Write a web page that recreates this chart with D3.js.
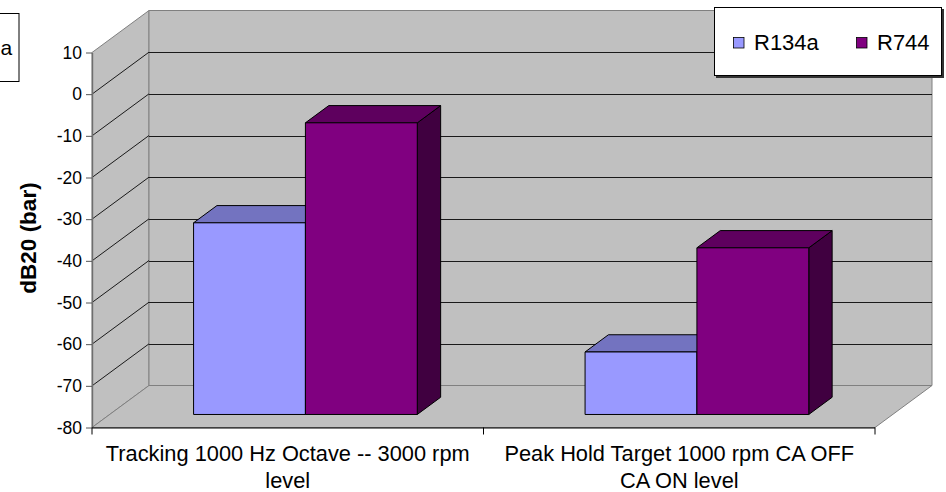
<!DOCTYPE html>
<html>
<head>
<meta charset="utf-8">
<script src="https://cdn.jsdelivr.net/npm/d3@7/dist/d3.min.js"></script>
<style>
  html, body { margin: 0; padding: 0; background: #ffffff; }
  svg { display: block; font-family: "Liberation Sans", Arial, sans-serif; }
</style>
</head>
<body>
<svg id="chart" width="946" height="492"></svg>
<script>
// Chart data
const categories = [
  "Tracking 1000 Hz Octave -- 3000 rpm level",
  "Peak Hold Target 1000 rpm CA OFF CA ON level"
];
const seriesNames = ["R134a", "R744"];
const r134a = [-34, -65];
const r744 = [-10, -40];
const yTickValues = [10, 0, -10, -20, -30, -40, -50, -60, -70, -80];
const yTitle = "dB20 (bar)";

const seriesValues = [r134a, r744];
const frontColors = ["#9999FF", "#800080"];
const topColors = ["#7373C0", "#5E005E"];
const sideColors = ["#5C5C99", "#400040"];

const svg = d3.select("#chart");

// Front-plane scales; depth is drawn as an oblique offset
const y = d3.scaleLinear().domain([-80, 10]).range([427.5, 52.5]);
const x = d3.scaleBand().domain(categories).range([92, 875]);
const xs = d3.scaleBand().domain(seriesNames).range([0, x.bandwidth()])
  .paddingInner(0).paddingOuter(0.75);

const DX = 57, DY = -42;            // full depth of the plot box
const proj = (px, py, d) => [px + DX * d, py + DY * d];
const barD0 = 0.31, barD1 = 0.72;   // bar depth span inside the box

const x0 = x.range()[0], x1 = x.range()[1];
const yTop = y(10), yBot = y(-80);

const line = d3.line();
const poly = pts => "M" + pts.map(p => p.join(",")).join("L") + "Z";

// Walls and floor
const walls = svg.append("g");
walls.append("path")
  .attr("d", poly([[x0, yTop], proj(x0, yTop, 1), proj(x0, yBot, 1), [x0, yBot]]))
  .attr("fill", "#C0C0C0").attr("stroke", "#808080").attr("stroke-width", 1);
walls.append("path")
  .attr("d", poly([proj(x0, yTop, 1), proj(x1, yTop, 1), proj(x1, yBot, 1), proj(x0, yBot, 1)]))
  .attr("fill", "#C0C0C0").attr("stroke", "#808080").attr("stroke-width", 1);
walls.append("path")
  .attr("d", poly([[x0, yBot], proj(x0, yBot, 1), proj(x1, yBot, 1), [x1, yBot]]))
  .attr("fill", "#C0C0C0").attr("stroke", "#808080").attr("stroke-width", 1);

// Gridlines: diagonal on the side wall, horizontal on the back wall
const gridVals = yTickValues.filter(v => v > -80 && v < 10);
const grid = svg.append("g").attr("stroke", "#1a1a1a").attr("stroke-width", 1).attr("fill", "none");
gridVals.forEach(v => {
  const a = [x0, y(v)], b = proj(x0, y(v), 1), c = proj(x1, y(v), 1);
  grid.append("path").attr("d", line([a, b]));
  grid.append("path").attr("d", line([[b[0], Math.round(b[1]) + 0.5], [c[0], Math.round(c[1]) + 0.5]]));
});

// Bars (front, top and right faces)
const bars = svg.append("g").attr("stroke", "#000").attr("stroke-width", 1).attr("stroke-linejoin", "round");
categories.forEach((cat, ci) => {
  seriesNames.forEach((s, si) => {
    const v = seriesValues[si][ci];
    const left = x(cat) + xs(s), right = left + xs.bandwidth();
    const fTL = proj(left, y(v), barD0), fTR = proj(right, y(v), barD0);
    const fBL = proj(left, y(-80), barD0), fBR = proj(right, y(-80), barD0);
    const bTL = proj(left, y(v), barD1), bTR = proj(right, y(v), barD1);
    const bBR = proj(right, y(-80), barD1);
    bars.append("path").attr("d", poly([fTR, bTR, bBR, fBR])).attr("fill", sideColors[si]);
    bars.append("path").attr("d", poly([fTL, bTL, bTR, fTR])).attr("fill", topColors[si]);
    bars.append("path").attr("d", poly([fTL, fTR, fBR, fBL])).attr("fill", frontColors[si]);
  });
});

// Value axis (plain hyphen-minus in the labels)
const yAxis = svg.append("g")
  .attr("transform", `translate(${x0},0)`)
  .call(d3.axisLeft(y).tickValues(yTickValues).tickFormat(d => String(d))
    .tickSize(6).tickPadding(4).tickSizeOuter(0));
yAxis.select(".domain").attr("stroke", "#6e6e6e").attr("stroke-width", 1.4);
yAxis.selectAll(".tick line").attr("stroke", "#555");
yAxis.selectAll(".tick text").attr("font-size", 17.5).attr("fill", "#000")
  .attr("font-family", "Liberation Sans, Arial, sans-serif");

// Category axis along the front edge of the floor
const xAxis = svg.append("g");
xAxis.append("line").attr("x1", x0).attr("x2", x1).attr("y1", yBot + 0.5).attr("y2", yBot + 0.5)
  .attr("stroke", "#000").attr("stroke-width", 1.2);
const bounds = [x0].concat(categories.map(c => x(c) + x.bandwidth()));
xAxis.selectAll("line.tk").data(bounds).join("line").attr("class", "tk")
  .attr("x1", d => d).attr("x2", d => d).attr("y1", yBot).attr("y2", yBot + 7)
  .attr("stroke", "#000");

// Wrapped category labels
categories.forEach(cat => {
  const cx = x(cat) + x.bandwidth() / 2;
  const t = svg.append("text")
    .attr("x", cx).attr("y", 461)
    .attr("text-anchor", "middle").attr("font-size", 21.8).attr("fill", "#000");
  const words = cat.split(" ");
  let lineWords = [], tspan = t.append("tspan").attr("x", cx).attr("dy", 0);
  const maxW = x.bandwidth() * 0.96;
  words.forEach(w => {
    lineWords.push(w);
    tspan.text(lineWords.join(" "));
    if (tspan.node().getComputedTextLength() > maxW && lineWords.length > 1) {
      lineWords.pop();
      tspan.text(lineWords.join(" "));
      lineWords = [w];
      tspan = t.append("tspan").attr("x", cx).attr("dy", 27).text(w);
    }
  });
});

// Value axis title
svg.append("text")
  .attr("transform", `translate(36,238) rotate(-90)`)
  .attr("text-anchor", "middle").attr("font-size", 22.5).attr("font-weight", "bold")
  .attr("fill", "#000").text(yTitle);

// Legend
const lg = svg.append("g");
lg.append("rect").attr("x", 716).attr("y", 9).attr("width", 228).attr("height", 69).attr("fill", "#333");
lg.append("rect").attr("x", 714.5).attr("y", 7.5).attr("width", 227).attr("height", 68)
  .attr("fill", "#fff").attr("stroke", "#000");
const legendX = [733.5, 856.5];
seriesNames.forEach((s, i) => {
  lg.append("rect").attr("x", legendX[i]).attr("y", 37.5).attr("width", 10.5).attr("height", 10.5)
    .attr("fill", frontColors[i]).attr("stroke", "#000").attr("stroke-width", 0.8);
  lg.append("text").attr("x", legendX[i] + 20.5).attr("y", 50).attr("font-size", 22)
    .attr("fill", "#000").text(s);
});

// Neighbouring text box at the left edge
svg.append("rect").attr("x", -10).attr("y", 13.5).attr("width", 29).attr("height", 68)
  .attr("fill", "#fff").attr("stroke", "#000");
svg.append("text").attr("x", 0.5).attr("y", 55)
  .attr("font-size", 21).attr("fill", "#000").text("a");
</script>
</body>
</html>
